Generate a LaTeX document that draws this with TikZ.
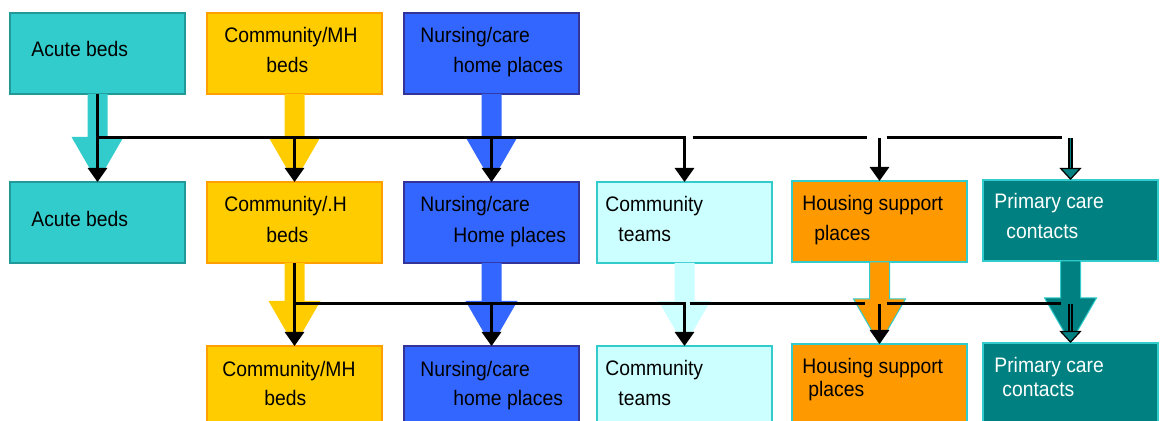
\documentclass[tikz,border=0pt]{standalone}
\usepackage{fontspec}
\setmainfont{Liberation Sans}[FakeStretch=0.92]
\usetikzlibrary{arrows.meta,calc}

\definecolor{acute}{HTML}{33CCCC}
\definecolor{acuteline}{HTML}{229999}
\definecolor{commbed}{HTML}{FFCC00}
\definecolor{commline}{HTML}{FF9F00}
\definecolor{nursing}{HTML}{3366FF}
\definecolor{nursline}{HTML}{333399}
\definecolor{teams}{HTML}{CCFFFF}
\definecolor{housing}{HTML}{FF9900}
\definecolor{primary}{HTML}{008080}

% fat block arrow running down from one box into the next
\newcommand{\fatarrow}[3]{%
  \path[#1] ($(#2.south -| #3.north)+(-10,0)$) -- ($(#3.north)+(-10,-45)$)
    -- ($(#3.north)+(-26,-45)$) -- (#3.north) -- ($(#3.north)+(26,-45)$)
    -- ($(#3.north)+(10,-45)$) -- ($(#2.south -| #3.north)+(10,0)$) -- cycle;}
% thin teal arrow with black edge
\newcommand{\tealarrow}[2]{%
  \draw[line width=2.4pt, shorten >=6pt] (#1) -- (#2);
  \draw[primary, line width=0.9pt,
        -{Triangle[length=6pt,width=11pt,color=black,fill=primary,line width=0.6pt]}] (#1) -- (#2);}

\begin{document}
\begin{tikzpicture}[
  x=0.5pt, y=-0.5pt,
  box/.style={draw, line width=0.8pt, minimum width=87.5pt, minimum height=40.5pt,
              inner sep=0pt, outer sep=0pt, anchor=north west},
  lbl/.style={anchor=base west, inner sep=0pt, font=\fontsize{10.5pt}{12pt}\selectfont},
  link/.style={line width=1.5pt, -{Triangle[length=7pt,width=9.5pt]}},
  rule/.style={line width=1.5pt},
]
\useasboundingbox (0,0) rectangle (1162,421);

% ---------- top row ----------
\node[box, fill=acute, draw=acuteline]  (A1) at (10,13)  {};
\node[box, fill=commbed, draw=commline] (C1) at (207,13) {};
\node[box, fill=nursing, draw=nursline] (N1) at (404,13) {};
\node[lbl] (tA1) at (31,57)   {Acute beds};
\node[lbl] (tC1) at (224,43)  {Community/MH};
\node[lbl] (tC1b) at (266,73) {beds};
\node[lbl] (tN1) at (420,43)  {Nursing/care};
\node[lbl] (tN1b) at (453,73) {home places};

% ---------- middle row ----------
\node[box, fill=acute, draw=acuteline]  (A2) at (10,182)  {};
\node[box, fill=commbed, draw=commline] (C2) at (207,182) {};
\node[box, fill=nursing, draw=nursline] (N2) at (404,182) {};
\node[box, fill=teams, draw=acute]      (T2) at (597,182) {};
\node[box, fill=housing, draw=acute]    (H2) at (792,181) {};
\node[box, fill=primary, draw=acute]    (P2) at (983,180) {};
\node[lbl] (tA2) at (31,227)   {Acute beds};
\node[lbl] (tC2) at (224,212)  {Community/.H};
\node[lbl] (tC2b) at (266,243) {beds};
\node[lbl] (tN2) at (420,212)  {Nursing/care};
\node[lbl] (tN2b) at (453,243) {Home places};
\node[lbl] (tT2) at (605,212)  {Community};
\node[lbl] (tT2b) at (618,242) {teams};
\node[lbl] (tH2) at (802,211)  {Housing support};
\node[lbl] (tH2b) at (814,241) {places};
\node[lbl, white] (tP2) at (994,209)  {Primary care};
\node[lbl, white] (tP2b) at (1006,239) {contacts};

% ---------- bottom row ----------
\node[box, fill=commbed, draw=commline] (C3) at (207,346) {};
\node[box, fill=nursing, draw=nursline] (N3) at (404,346) {};
\node[box, fill=teams, draw=acute]      (T3) at (597,346) {};
\node[box, fill=housing, draw=acute]    (H3) at (792,344) {};
\node[box, fill=primary, draw=acute]    (P3) at (983,343) {};
\node[lbl] (tC3) at (222,377)  {Community/MH};
\node[lbl] (tC3b) at (264,406) {beds};
\node[lbl] (tN3) at (420,377)  {Nursing/care};
\node[lbl] (tN3b) at (453,406) {home places};
\node[lbl] (tT3) at (605,376)  {Community};
\node[lbl] (tT3b) at (618,406) {teams};
\node[lbl] (tH3) at (802,374)  {Housing support};
\node[lbl] (tH3b) at (808,397) {places};
\node[lbl, white] (tP3) at (994,373)  {Primary care};
\node[lbl, white] (tP3b) at (1002,397) {contacts};

% ---------- block arrows ----------
\fatarrow{fill=acute}{A1}{A2}
\fatarrow{fill=commbed}{C1}{C2}
\fatarrow{fill=nursing}{N1}{N2}
\fatarrow{fill=commbed}{C2}{C3}
\fatarrow{fill=nursing}{N2}{N3}
\fatarrow{fill=teams}{T2}{T3}
\fatarrow{fill=housing, draw=acute, line width=0.5pt}{H2}{H3}
\fatarrow{fill=primary, draw=acute, line width=0.5pt}{P2}{P3}

% ---------- first split ----------
\coordinate (j1) at (0,138);
\draw[link] (A1.south) -- (A2.north);
\draw[link] (A1.south |- j1) -- (T2.north |- j1) -- (T2.north);
\draw[link] (C2.north |- j1) -- (C2.north);
\draw[link] (N2.north |- j1) -- (N2.north);
\draw[rule] ($(T2.north |- j1)+(8,0)$) -- ($(H2.north |- j1)+(-13,0)$);
\draw[rule] ($(H2.north |- j1)+(7,0)$) -- ($(P2.north |- j1)+(-9,0)$);
\draw[link] (H2.north |- j1) -- (H2.north);
\tealarrow{P2.north |- j1}{P2.north}

% ---------- second split ----------
\coordinate (j2) at (0,304);
\draw[link] (C2.south) -- (C3.north);
\draw[link] (C2.south |- j2) -- (T3.north |- j2) -- (T3.north);
\draw[link] (N3.north |- j2) -- (N3.north);
\draw[rule] ($(T3.north |- j2)+(5,0)$) -- ($(H3.north |- j2)+(-15,0)$);
\draw[rule] ($(H3.north |- j2)+(7,0)$) -- ($(P3.north |- j2)+(-10,0)$);
\draw[link] (H3.north |- j2) -- (H3.north);
\tealarrow{P3.north |- j2}{P3.north}
\end{tikzpicture}
\end{document}
